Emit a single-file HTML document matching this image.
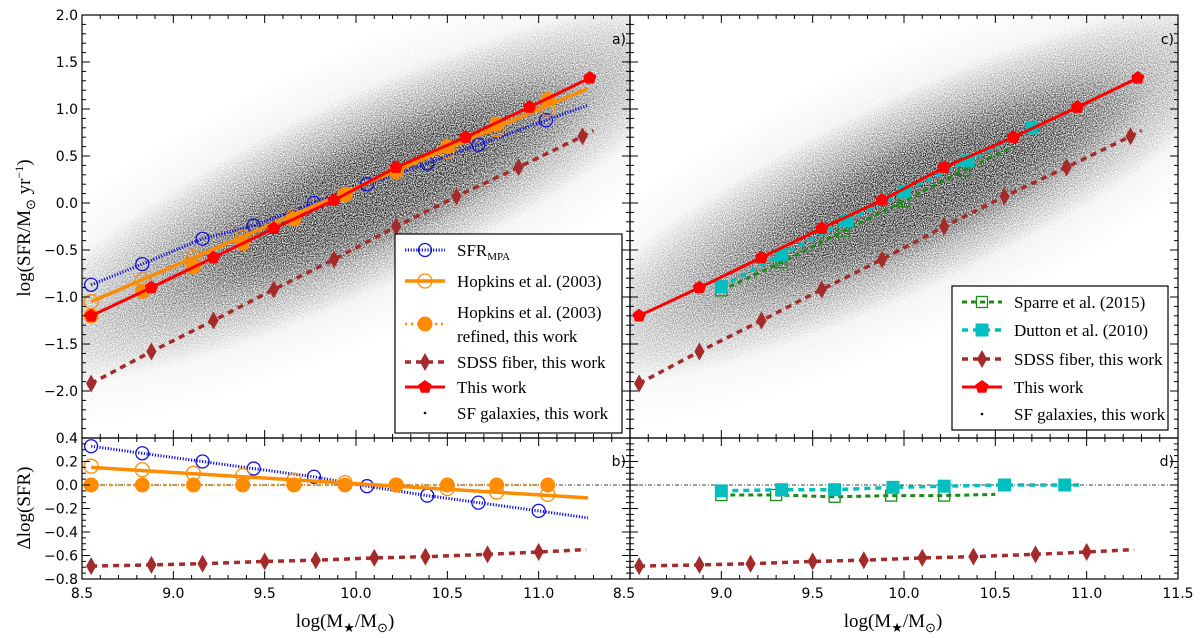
<!DOCTYPE html>
<html><head><meta charset="utf-8"><style>
html,body{margin:0;padding:0;background:#fff;}
svg{display:block;}
.tl{font-family:"DejaVu Sans",sans-serif;font-size:14px;fill:#000;}
.lg{font-family:"Liberation Serif",serif;font-size:17px;fill:#000;}
.ax{font-family:"Liberation Serif",serif;font-size:19px;fill:#000;}
</style></head><body>
<svg id="fig" xmlns="http://www.w3.org/2000/svg" width="1200" height="638" viewBox="0 0 1200 638">
<defs>
<radialGradient id="cloudG" cx="50%" cy="50%" r="50%">
<stop offset="0" stop-color="#000" stop-opacity="1"/>
<stop offset="0.3" stop-color="#000" stop-opacity="0.9"/>
<stop offset="0.65" stop-color="#000" stop-opacity="0.4"/>
<stop offset="1" stop-color="#000" stop-opacity="0"/>
</radialGradient>
<radialGradient id="haloG" cx="50%" cy="50%" r="50%">
<stop offset="0" stop-color="#000" stop-opacity="0.3"/>
<stop offset="0.6" stop-color="#000" stop-opacity="0.1"/>
<stop offset="1" stop-color="#000" stop-opacity="0"/>
</radialGradient>
<filter id="speckle" x="0" y="0" width="100%" height="100%">
<feTurbulence type="fractalNoise" baseFrequency="0.9" numOctaves="1" seed="3" result="n"/>
<feColorMatrix in="n" type="matrix" values="0 0 0 0 0  0 0 0 0 0  0 0 0 0 0  0 0 0 2.2 -0.6" result="m"/>
<feComposite in="SourceGraphic" in2="m" operator="in"/>
</filter>
<clipPath id="clipA"><rect x="82" y="15" width="548" height="423"/></clipPath>
<clipPath id="clipC"><rect x="630" y="15" width="548" height="423"/></clipPath>
</defs>
<g id="root"></g>
</svg>
<script>
// ---------- data ----------
const thisX = [8.55, 8.88, 9.22, 9.55, 9.88, 10.22, 10.6, 10.95, 11.28];
const thisY = [-1.2, -0.9, -0.58, -0.27, 0.03, 0.38, 0.7, 1.02, 1.33];
const sdssTopX = [8.55, 8.88, 9.22, 9.55, 9.88, 10.22, 10.55, 10.89, 11.24, 11.3];
const sdssTopY = [-1.92, -1.58, -1.25, -0.92, -0.6, -0.25, 0.07, 0.38, 0.71, 0.77];
const sdssX = [8.55, 8.88, 9.16, 9.5, 9.78, 10.1, 10.38, 10.72, 11.0, 11.26];
const sdssD = [-0.69, -0.68, -0.67, -0.65, -0.64, -0.62, -0.61, -0.59, -0.57, -0.55];
const mpaX = [8.55, 8.83, 9.16, 9.44, 9.77, 10.06, 10.39, 10.67, 11.04, 11.27];
const mpaY = [-0.87, -0.65, -0.38, -0.24, 0.0, 0.2, 0.42, 0.62, 0.88, 1.04];
const mpaDX = [8.55, 8.83, 9.16, 9.44, 9.77, 10.06, 10.39, 10.67, 11.0, 11.27];
const mpaD = [0.33, 0.27, 0.2, 0.14, 0.07, -0.01, -0.09, -0.15, -0.22, -0.28];
const hopX = [8.55, 8.83, 9.11, 9.38, 9.66, 9.94, 10.22, 10.5, 10.77, 11.05];
const hopY = [-1.05, -0.82, -0.58, -0.36, -0.14, 0.09, 0.33, 0.55, 0.78, 1.0];
const hopD = [0.16, 0.13, 0.1, 0.08, 0.04, 0.02, 0.0, -0.03, -0.06, -0.08];
const hopLineX = [8.55, 11.27];
const hopLineY = [-1.05, 1.22];
const hopLineD = [0.15, -0.11];
const refY = [-1.2, -0.94, -0.68, -0.43, -0.17, 0.09, 0.35, 0.6, 0.84, 1.1];
const refD = [0.0, 0.0, 0.0, 0.0, 0.0, 0.0, 0.0, 0.0, 0.0, 0.0];
const spaTopX = [9.0, 9.33, 9.67, 10.0, 10.33, 10.6];
const spaTopY = [-0.93, -0.63, -0.3, 0.02, 0.35, 0.6];
const spaX = [9.0, 9.3, 9.62, 9.93, 10.22, 10.5];
const spaD = [-0.085, -0.085, -0.1, -0.09, -0.09, -0.08];
const dutTopX = [9.0, 9.33, 9.69, 10.0, 10.35, 10.7, 10.76];
const dutTopY = [-0.89, -0.55, -0.19, 0.12, 0.45, 0.8, 0.85];
const dutX = [9.0, 9.33, 9.62, 9.94, 10.22, 10.55, 10.88, 10.97];
const dutD = [-0.05, -0.04, -0.04, -0.02, -0.01, 0.0, 0.0, 0.0];
const xTicksA = ["8.5", "9.0", "9.5", "10.0", "10.5", "11.0"];
const xTicksC = ["8.5", "9.0", "9.5", "10.0", "10.5", "11.0", "11.5"];
const yTicksTop = ["2.0", "1.5", "1.0", "0.5", "0.0", "\u22120.5", "\u22121.0", "\u22121.5", "\u22122.0"];
const yTicksBot = ["0.4", "0.2", "0.0", "\u22120.2", "\u22120.4", "\u22120.6", "\u22120.8"];

// ---------- helpers ----------
const NS = "http://www.w3.org/2000/svg";
const root = document.getElementById("root");
function el(tag, attrs, parent) {
  const e = document.createElementNS(NS, tag);
  for (const k in attrs) e.setAttribute(k, attrs[k]);
  (parent || root).appendChild(e);
  return e;
}
const XMIN = 8.5, XMAX = 11.5;
function mkX(x0, x1) { return v => x0 + (v - XMIN) / (XMAX - XMIN) * (x1 - x0); }
const yTop = v => 15 + (2.0 - v) / 4.5 * 423;
const yBot = v => 438 + (0.4 - v) / 1.2 * 141;
const xA = mkX(82, 630), xC = mkX(630, 1178);

function marker(g, type, cx, cy, color, size) {
  let m;
  if (type === "circleOpen") {
    m = el("circle", {cx: cx, cy: cy, r: size, fill: "none", stroke: color, "stroke-width": 1.3}, g);
  } else if (type === "circleFill") {
    m = el("circle", {cx: cx, cy: cy, r: size, fill: color, stroke: color, "stroke-width": 1}, g);
  } else if (type === "diamond") {
    m = el("polygon", {points: `${cx},${cy - size * 1.5} ${cx + size * 0.85},${cy} ${cx},${cy + size * 1.5} ${cx - size * 0.85},${cy}`, fill: color}, g);
  } else if (type === "pentagon") {
    let p = [];
    for (let i = 0; i < 5; i++) { const a = -Math.PI / 2 + i * 2 * Math.PI / 5; p.push((cx + size * Math.cos(a)).toFixed(1) + "," + (cy + size * Math.sin(a)).toFixed(1)); }
    m = el("polygon", {points: p.join(" "), fill: color}, g);
  } else if (type === "squareOpen") {
    m = el("rect", {x: cx - size, y: cy - size, width: 2 * size, height: 2 * size, fill: "none", stroke: color, "stroke-width": 1.3}, g);
  } else if (type === "squareFill") {
    m = el("rect", {x: cx - size, y: cy - size, width: 2 * size, height: 2 * size, fill: color}, g);
  }
  
  
  return m;
}

function series(name, xs, ys, sx, sy, style, clip, nMarkers) {
  const g = el("g", clip ? {"clip-path": clip} : {});
  
  
  const lx = style.lineX || xs, ly = style.lineY || ys;
  const pts = lx.map((v, i) => sx(v).toFixed(1) + "," + sy(ly[i]).toFixed(1)).join(" ");
  const a = {points: pts, fill: "none", stroke: style.color, "stroke-width": style.w || 3};
  if (style.dash) a["stroke-dasharray"] = style.dash;
  const pl = el("polyline", a, g);
  
  
  if (style.marker) {
    const n = nMarkers == null ? xs.length : nMarkers;
    for (let i = 0; i < n; i++) marker(g, style.marker, sx(xs[i]), sy(ys[i]), style.mcolor || style.color, style.ms || 6);
  }
  return g;
}

// ---------- scatter clouds ----------
function cloud(sx, clip, name) {
  const g = el("g", {"clip-path": clip});
  
  
  const inner = el("g", {filter: "url(#speckle)"}, g);
  const cx = sx(10.05), cy = yTop(0.12);
  const ang = -Math.atan(0.93 * (423 / 4.5) / (548 / 3)) * 180 / Math.PI;
  el("ellipse", {cx: cx, cy: cy, rx: 470, ry: 140, fill: "url(#haloG)", transform: `rotate(${ang} ${cx} ${cy})`}, inner);
  el("ellipse", {cx: cx, cy: cy, rx: 400, ry: 95, fill: "url(#cloudG)", transform: `rotate(${ang} ${cx} ${cy})`}, inner);
  el("ellipse", {cx: cx + 30, cy: cy + 5, rx: 230, ry: 55, fill: "url(#cloudG)", transform: `rotate(${ang} ${cx} ${cy})`}, inner);
}
cloud(xA, "url(#clipA)", "sf-galaxies-scatter-a");
cloud(xC, "url(#clipC)", "sf-galaxies-scatter-c");

// zero lines
[[82, 630], [630, 1178]].forEach((r, i) => {
  const l = el("line", {x1: r[0], x2: r[1], y1: yBot(0), y2: yBot(0), stroke: "#000", "stroke-width": 0.8, "stroke-dasharray": "4,2,1,2"});
  
  
});

const BLUE = "#1010e0", ORANGE = "#ff8c00", BROWN = "#a52a2a", RED = "#ff0000", GREEN = "#1a8a1a", CYAN = "#00bfbf";
const sMPA = {color: BLUE, dash: "1.2,1.6", w: 3, marker: "circleOpen", ms: 6.5};
const sHop = {color: ORANGE, w: 3.5, marker: "circleOpen", ms: 7};
const sRef = {color: ORANGE, dash: "2,4", w: 2.5, marker: "circleFill", ms: 7};
const sSDSS = {color: BROWN, dash: "6,5", w: 3.5, marker: "diamond", ms: 6};
const sThis = {color: RED, w: 3, marker: "pentagon", ms: 7};
const sSpa = {color: GREEN, dash: "5,4", w: 3, marker: "squareOpen", ms: 5.5};
const sDut = {color: CYAN, dash: "6,5", w: 3.5, marker: "squareFill", ms: 6.5};

// panel a
series("sfr-mpa-a", mpaX, mpaY, xA, yTop, sMPA, "url(#clipA)", 9);
series("hopkins-a", hopX, hopY, xA, yTop, Object.assign({lineX: hopLineX, lineY: hopLineY}, sHop), "url(#clipA)");
series("hopkins-refined-a", hopX, refY, xA, yTop, sRef, "url(#clipA)");
series("sdss-fiber-a", sdssTopX, sdssTopY, xA, yTop, sSDSS, "url(#clipA)", 9);
series("this-work-a", thisX, thisY, xA, yTop, sThis, "url(#clipA)");
// panel b
series("sfr-mpa-b", mpaDX, mpaD, xA, yBot, sMPA, null, 9);
series("hopkins-b", hopX, hopD, xA, yBot, Object.assign({lineX: hopLineX, lineY: hopLineD}, sHop), null);
series("hopkins-refined-b", hopX, refD, xA, yBot, sRef, null);
series("sdss-fiber-b", sdssX, sdssD, xA, yBot, sSDSS, null, 9);
// panel c
series("sparre-c", spaTopX, spaTopY, xC, yTop, sSpa, "url(#clipC)", 5);
series("dutton-c", dutTopX, dutTopY, xC, yTop, sDut, "url(#clipC)", 6);
series("sdss-fiber-c", sdssTopX, sdssTopY, xC, yTop, sSDSS, "url(#clipC)", 9);
series("this-work-c", thisX, thisY, xC, yTop, sThis, "url(#clipC)");
// panel d
series("sparre-d", spaX, spaD, xC, yBot, sSpa, null, 5);
series("dutton-d", dutX, dutD, xC, yBot, sDut, null, 7);
series("sdss-fiber-d", sdssX, sdssD, xC, yBot, sSDSS, null, 9);

// ---------- axes frames & ticks ----------
function frame(x0, x1, y0, y1, name, ymaj, ymin, yv0, yv1, sy) {
  const g = el("g", {});
  
  
  el("rect", {x: x0, y: y0, width: x1 - x0, height: y1 - y0, fill: "none", stroke: "#000", "stroke-width": 1.2}, g);
  const sx = mkX(x0, x1);
  for (let k = 0; k <= 30; k++) {
    const v = XMIN + k * 0.1, px = sx(v), L = (k % 5 === 0) ? 8 : 4;
    el("line", {x1: px, x2: px, y1: y0, y2: y0 + L, stroke: "#000", "stroke-width": 1}, g);
    el("line", {x1: px, x2: px, y1: y1, y2: y1 - L, stroke: "#000", "stroke-width": 1}, g);
  }
  const n = Math.round((yv1 - yv0) / ymin);
  for (let k = 0; k <= n; k++) {
    const v = yv0 + k * ymin, py = sy(v);
    const maj = Math.abs(v / ymaj - Math.round(v / ymaj)) < 1e-6;
    const L = maj ? 8 : 4;
    el("line", {x1: x0, x2: x0 + L, y1: py, y2: py, stroke: "#000", "stroke-width": 1}, g);
    el("line", {x1: x1, x2: x1 - L, y1: py, y2: py, stroke: "#000", "stroke-width": 1}, g);
  }
}
frame(82, 630, 15, 438, "panel-a-axes", 0.5, 0.1, -2.5, 2.0, yTop);
frame(630, 1178, 15, 438, "panel-c-axes", 0.5, 0.1, -2.5, 2.0, yTop);
frame(82, 630, 438, 579, "panel-b-axes", 0.2, 0.05, -0.8, 0.4, yBot);
frame(630, 1178, 438, 579, "panel-d-axes", 0.2, 0.05, -0.8, 0.4, yBot);

function text(x, y, s, cls, anchor, name) {
  const t = el("text", {x: x, y: y, class: cls, "text-anchor": anchor || "middle"});
  t.textContent = s;
  
  
  return t;
}
yTicksTop.forEach((s, i) => text(78, yTop(2.0 - i * 0.5) + 5, s, "tl", "end", "y-tick-label"));
yTicksBot.forEach((s, i) => text(78, yBot(0.4 - i * 0.2) + 5, s, "tl", "end", "y-tick-label"));
xTicksA.forEach((s, i) => text(xA(8.5 + i * 0.5), 598, s, "tl", "middle", "x-tick-label"));
xTicksC.forEach((s, i) => text(xC(8.5 + i * 0.5) - (i === 0 ? 6 : 0), 598, s, "tl", "middle", "x-tick-label"));

text(626, 44, "a)", "tl", "end", "panel-label-a");
text(1174, 44, "c)", "tl", "end", "panel-label-c");
text(626, 466, "b)", "tl", "end", "panel-label-b");
text(1174, 466, "d)", "tl", "end", "panel-label-d");

// axis titles
function xTitle(cx, name) {
  const t = el("text", {x: cx, y: 627, class: "ax", "text-anchor": "middle"});
  
  
  t.innerHTML = 'log(M<tspan font-size="13" dy="5">\u2605</tspan><tspan dy="-5">/M</tspan><tspan font-size="13" dy="5">\u2299</tspan><tspan dy="-5">)</tspan>';
}
xTitle(345, "x-axis-title-left");
xTitle(893, "x-axis-title-right");
const yt = el("text", {x: 0, y: 0, class: "ax", "text-anchor": "middle", transform: "translate(30,228) rotate(-90)"});


yt.innerHTML = 'log(SFR/M<tspan font-size="13" dy="5">\u2299</tspan><tspan dy="-5"> yr</tspan><tspan font-size="12" dy="-7">\u22121</tspan><tspan dy="7">)</tspan>';
const yb = el("text", {x: 0, y: 0, class: "ax", "text-anchor": "middle", transform: "translate(30,508) rotate(-90)"});


yb.textContent = "\u0394log(SFR)";

// ---------- legends ----------
function legend(x, y, w, h, entries, name) {
  const g = el("g", {});
  
  
  el("rect", {x: x, y: y, width: w, height: h, fill: "#fff", stroke: "#000", "stroke-width": 1.2}, g);
  entries.forEach(e => {
    const eg = el("g", {}, g);
    
    
    const hx0 = x + 10, hx1 = x + 50, hy = e.y;
    if (e.st.w) {
      const a = {x1: hx0, x2: hx1, y1: hy, y2: hy, stroke: e.st.color, "stroke-width": e.st.w};
      if (e.st.dash) a["stroke-dasharray"] = e.st.dash;
      el("line", a, eg);
    }
    if (e.st.marker) marker(eg, e.st.marker, (hx0 + hx1) / 2, hy, e.st.color, e.st.ms);
    if (e.dot) el("circle", {cx: (hx0 + hx1) / 2, cy: hy, r: 1.3, fill: "#000"}, eg);
    e.lines.forEach((s, i) => {
      const t = el("text", {x: x + 62, y: hy + 6 + (i - (e.lines.length - 1) / 2) * 24, class: "lg"}, eg);
      t.innerHTML = s;
    });
  });
}
legend(395, 234, 227, 199, [
  {y: 250, st: sMPA, lines: ['SFR<tspan font-size="11" dy="4">MPA</tspan>']},
  {y: 281, st: sHop, lines: ['Hopkins et al. (2003)']},
  {y: 324, st: sRef, lines: ['Hopkins et al. (2003)', 'refined, this work']},
  {y: 362, st: sSDSS, lines: ['SDSS fiber, this work']},
  {y: 387, st: sThis, lines: ['This work']},
  {y: 413, st: {}, dot: true, lines: ['SF galaxies, this work']}
], "legend-left");
legend(952, 286, 216, 144, [
  {y: 302, st: sSpa, lines: ['Sparre et al. (2015)']},
  {y: 330, st: sDut, lines: ['Dutton et al. (2010)']},
  {y: 359, st: sSDSS, lines: ['SDSS fiber, this work']},
  {y: 387, st: sThis, lines: ['This work']},
  {y: 414, st: {}, dot: true, lines: ['SF galaxies, this work']}
], "legend-right");
</script>
</body></html>
